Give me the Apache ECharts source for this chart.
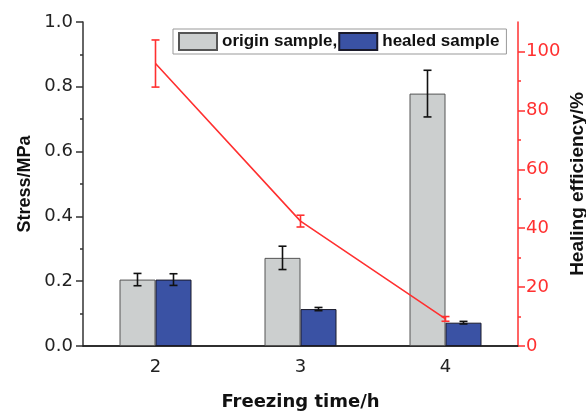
<!DOCTYPE html>
<html>
<head>
<meta charset="utf-8">
<script src="https://cdn.jsdelivr.net/npm/echarts@6/dist/echarts.min.js"></script>
<style>html,body{margin:0;padding:0;background:#fff}#c{width:586px;height:412px}</style>
</head>
<body>
<div id="c"></div>
<script>
const categories = ['2', '3', '4'];
const originStress = [0.205, 0.272, 0.779];
const originErr = [0.019, 0.036, 0.072];
const healedStress = [0.205, 0.114, 0.072];
const healedErr = [0.018, 0.005, 0.004];
const efficiency = [95.9, 42.4, 9.2];
const efficiencyErr = [8, 2, 0.8];
const rightTicks = [0, 20, 40, 60, 80, 100];
const rightMinor = [10, 30, 50, 70, 90];
const seriesNames = ['origin sample', 'healed sample'];

const FONT = "'Liberation Sans', Arial, sans-serif";
const TICKFONT = "'DejaVu Sans', sans-serif";
const RED = '#FF3030';
const BAR_W = 36;

function errData(vals, errs) {
  return vals.map((v, i) => [i, v - errs[i], v + errs[i]]);
}
function errRender(offset, color, cap) {
  return function (params, api) {
    const lo = api.coord([api.value(0), api.value(1)]);
    const hi = api.coord([api.value(0), api.value(2)]);
    const x = lo[0] + offset;
    const st = { stroke: color, lineWidth: 1.6 };
    return {
      type: 'group',
      children: [
        { type: 'line', shape: { x1: x, y1: lo[1], x2: x, y2: hi[1] }, style: st },
        { type: 'line', shape: { x1: x - cap, y1: lo[1], x2: x + cap, y2: lo[1] }, style: st },
        { type: 'line', shape: { x1: x - cap, y1: hi[1], x2: x + cap, y2: hi[1] }, style: st }
      ]
    };
  };
}

const chart = echarts.init(document.getElementById('c'), null, { renderer: 'canvas' });
chart.setOption({
  animation: false,
  backgroundColor: '#fff',
  textStyle: { fontFamily: FONT },
  grid: { left: 83, right: 68, top: 22, bottom: 66, containLabel: false, outerBoundsMode: 'none' },
  legend: {
    left: 173, top: 29,
    padding: [3, 7, 3, 5],
    itemGap: 1,
    icon: 'rect',
    itemWidth: 38, itemHeight: 17,
    backgroundColor: '#fff',
    borderColor: '#999', borderWidth: 1,
    data: seriesNames,
    formatter: n => n === seriesNames[0] ? n + ',' : n,
    textStyle: { fontFamily: FONT, fontSize: 17, fontWeight: 'bold', color: '#111' }
  },
  xAxis: [{
    type: 'category', data: categories,
    axisLine: { lineStyle: { color: '#222', width: 1.5 } },
    axisTick: { alignWithLabel: true, length: 7, lineStyle: { color: '#222', width: 1.5 } },
    axisLabel: { fontSize: 18, color: '#222', margin: 12, fontFamily: TICKFONT },
    name: 'Freezing time/h', nameLocation: 'middle', nameGap: 47, nameMoveOverlap: false,
    nameTextStyle: { fontSize: 18, fontWeight: 'bold', color: '#111', fontFamily: TICKFONT }
  }, {
    type: 'category', data: categories, position: 'top',
    axisLine: { lineStyle: { color: '#222', width: 1.5 } },
    axisTick: { show: false }, axisLabel: { show: false }
  }],
  yAxis: [{
    type: 'value', min: 0, max: 1, interval: 0.2, position: 'left',
    axisLine: { show: true, lineStyle: { color: '#333', width: 1.5 } },
    axisTick: { show: true, length: 7, lineStyle: { color: '#333', width: 1.5 } },
    minorTick: { show: true, splitNumber: 2, length: 3, lineStyle: { color: '#333', width: 1.5 } },
    splitLine: { show: false },
    axisLabel: { fontSize: 18, color: '#222', margin: 10, fontFamily: TICKFONT, formatter: v => v.toFixed(1) },
    name: 'Stress/MPa', nameLocation: 'middle', nameGap: 49, nameMoveOverlap: false,
    nameTextStyle: { fontSize: 18, fontWeight: 'bold', color: '#111', fontFamily: FONT }
  }, {
    type: 'value', min: 0, max: 110, interval: 20, position: 'right',
    axisLine: { show: true, lineStyle: { color: RED, width: 1.5 } },
    axisTick: { show: true, length: 7, customValues: rightTicks, lineStyle: { color: RED, width: 1.5 } },
    splitLine: { show: false },
    axisLabel: { fontSize: 18, color: RED, margin: 8, fontFamily: TICKFONT, customValues: rightTicks },
    name: 'Healing efficiency/%', nameLocation: 'middle', nameGap: 50, nameMoveOverlap: false,
    nameTextStyle: { fontSize: 19, fontWeight: 'bold', color: '#111', fontFamily: FONT }
  }, {
    type: 'value', min: 0, max: 110, interval: 10, position: 'right',
    axisLine: { show: false },
    axisTick: { show: true, length: 3, customValues: rightMinor, lineStyle: { color: RED, width: 1.5 } },
    splitLine: { show: false },
    axisLabel: { show: false }
  }],
  series: [{
    name: seriesNames[0], type: 'bar', data: originStress,
    barWidth: BAR_W, barGap: '0%',
    itemStyle: { color: '#CCCFCF', borderColor: '#555', borderWidth: 1 }
  }, {
    name: seriesNames[1], type: 'bar', data: healedStress,
    barWidth: BAR_W, barGap: '0%',
    itemStyle: { color: '#3A52A4', borderColor: '#1a1a2a', borderWidth: 1 }
  }, {
    type: 'custom', name: 'originErr', data: errData(originStress, originErr),
    encode: { x: 0, y: [1, 2] }, z: 10,
    renderItem: errRender(-BAR_W / 2, '#111', 4)
  }, {
    type: 'custom', name: 'healedErr', data: errData(healedStress, healedErr),
    encode: { x: 0, y: [1, 2] }, z: 10,
    renderItem: errRender(BAR_W / 2, '#111', 4)
  }, {
    type: 'line', name: 'efficiency', yAxisIndex: 1, data: efficiency,
    symbol: 'none', lineStyle: { color: RED, width: 1.6 }, z: 11
  }, {
    type: 'custom', name: 'effErr', yAxisIndex: 1, data: errData(efficiency, efficiencyErr),
    encode: { x: 0, y: [1, 2] }, z: 12,
    renderItem: errRender(0, RED, 4)
  }]
});
</script>
</body>
</html>
